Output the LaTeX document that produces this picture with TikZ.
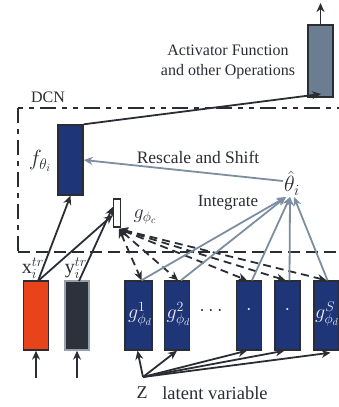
\RequirePackage{fix-cm}
\documentclass[tikz,border=0pt]{standalone}
\usepackage{fontspec}
\setmainfont{Liberation Serif}
\usetikzlibrary{arrows.meta}
\definecolor{dblue}{HTML}{1E3578}
\definecolor{orng}{HTML}{E8431A}
\definecolor{dkbox}{HTML}{2D313B}
\definecolor{gbord}{HTML}{9AA0A8}
\definecolor{gbox}{HTML}{6B7D90}
\definecolor{garr}{HTML}{7D8EA0}
\definecolor{ink}{HTML}{2A2D33}
\begin{document}
\begin{tikzpicture}[x=1pt,y=-1pt,
  every node/.style={font=\fontsize{16}{19}\selectfont, text=ink},
  blk/.style={draw=ink, line width=1.4pt, minimum width=25pt, minimum height=69pt, inner sep=0pt},
  bar/.style={blk, fill=dblue},
  blarr/.style={draw=ink, line width=1.8pt, -{Stealth[length=9pt,width=8pt]}},
  garrow/.style={draw=garr, line width=1.8pt, -{Stealth[length=9pt,width=8pt]}},
  dsh/.style={draw=ink, line width=1.8pt, dash pattern=on 8pt off 5pt, {Stealth[length=9pt,width=8pt]}-{Stealth[length=9pt,width=8pt]}},
  glab/.style={text=white!92!dblue, font=\fontsize{20}{22}\selectfont, inner sep=0pt}
]
\useasboundingbox (0,0) rectangle (338,407);
% frame
\draw[ink, line width=1.5pt, dash pattern=on 5pt off 6pt on 5pt off 6pt on 16pt off 6pt] (18,108) -- (345,108);
\draw[ink, line width=1.5pt, dash pattern=on 15pt off 6pt on 5pt off 6pt] (18,108) -- (18,252);
\draw[ink, line width=1.5pt, dash pattern=on 12pt off 6pt] (18,252) -- (345,252);
% nodes
\node[blk, fill=gbox, minimum height=72pt] (out) at (320.5,61) {};
\node[bar, minimum height=70pt] (f) at (70.5,160) {};
\node[draw=ink, fill=white, line width=1.4pt, minimum width=7pt, minimum height=28pt, inner sep=0pt] (gc) at (117,213) {};
\node[blk, fill=orng] (xb) at (36,315.5) {};
\node[blk, draw=gbord, fill=dkbox, minimum width=24pt] (yb) at (77,315.5) {};
\node[bar, minimum width=27pt] (g1) at (138.5,315.5) {};
\node[bar] (g2) at (177,315.5) {};
\node[bar] (g4) at (249,315.5) {};
\node[bar] (g5) at (287.5,315.5) {};
\node[bar] (g6) at (326.5,315.5) {};
\node[glab] (l1) at (140,314) {$g^{1}_{\phi_d}$};
\node[glab] (l2) at (178.5,314) {$g^{2}_{\phi_d}$};
\node[glab] (l4) at (249,310) {$\cdot$};
\node[glab] (l5) at (287.5,310) {$\cdot$};
\node[glab] (l6) at (327,314) {$g^{S}_{\phi_d}$};
\node[font=\fontsize{20}{22}\selectfont] (dots) at (211,311) {$\cdots$};
% labels
\node[align=center, font=\fontsize{16}{20}\selectfont] (act) at (228,62) {Activator Function\\and other Operations};
\node (dcn) at (48,97) {DCN};
\node[font=\fontsize{22}{24}\selectfont, inner sep=1pt] (fl) at (40,161) {$f_{\theta_i}$};
\node[font=\fontsize{17.5}{20}\selectfont] (resc) at (198,157) {Rescale and Shift};
\node[font=\fontsize{22}{24}\selectfont, inner sep=1pt] (th) at (292,183) {$\hat{\theta}_i$};
\node[font=\fontsize{17}{20}\selectfont] (integ) at (228,203) {Integrate};
\node[font=\fontsize{20}{22}\selectfont] (gcl) at (145,217) {$g_{\phi_c}$};
\node[font=\fontsize{20}{22}\selectfont] (xl) at (33,268) {$\mathrm{x}_i^{tr}$};
\node[font=\fontsize{20}{22}\selectfont] (yl) at (76,268) {$\mathrm{y}_i^{tr}$};
\node[font=\fontsize{18}{20}\selectfont] (zl) at (142,393) {Z};
\node[font=\fontsize{18.5}{20}\selectfont] (lv) at (215,393) {latent variable};
% coordinates
\coordinate (top) at (320.5,3);
\coordinate (outin) at (321,94);
\coordinate (zc) at (143,377);
\coordinate (xin) at (36,378);
\coordinate (yin) at (77,378);
\coordinate (tha) at (286,197);
\coordinate (thb) at (290,197);
\coordinate (thc) at (294,197);
\coordinate (xt) at (38,281);
\coordinate (yt) at (79,281);
\coordinate (gcs) at (119,229);
% output arrows
\draw[blarr] (out.north) -- (top);
\draw[blarr] (f.north east) -- (outin);
% rescale
\draw[garrow] ([yshift=2pt]th.west) -- (f.east);
% inputs
\draw[blarr] (xin) -- (xb.south);
\draw[blarr] (yin) -- (yb.south);
\draw[blarr] (xt) -- (f.south);
\draw[blarr] (xt) -- ([yshift=-2pt]gc.west);
\draw[blarr] (yt) -- ([yshift=6pt]gc.west);
% dashed
\draw[dsh] (gcs) -- ([xshift=3pt]g1.north);
\draw[dsh] (gcs) -- ([xshift=1pt]g2.north);
\draw[dsh] (gcs) -- ([xshift=-2pt]g4.north);
\draw[dsh] (gcs) -- ([xshift=-2pt]g5.north);
\draw[dsh] (gcs) -- ([xshift=0pt]g6.north);
% integrate
\draw[garrow] ([xshift=3pt]g1.north) -- (tha);
\draw[garrow] ([xshift=4pt]g2.north) -- (tha);
\draw[garrow] ([xshift=3pt]g4.north) -- (thb);
\draw[garrow] ([xshift=2pt]g5.north) -- (thb);
\draw[garrow] ([xshift=1pt]g6.north) -- (thc);
% latent
\draw[blarr] (zc) -- ([xshift=-1pt]g1.south);
\draw[blarr] (zc) -- ([xshift=0pt]g2.south);
\draw[blarr] (zc) -- ([xshift=-2pt]g4.south);
\draw[blarr] (zc) -- ([xshift=-3pt]g5.south);
\draw[blarr] (zc) -- ([xshift=4pt,yshift=-2pt]g6.south);
\end{tikzpicture}
\end{document}
